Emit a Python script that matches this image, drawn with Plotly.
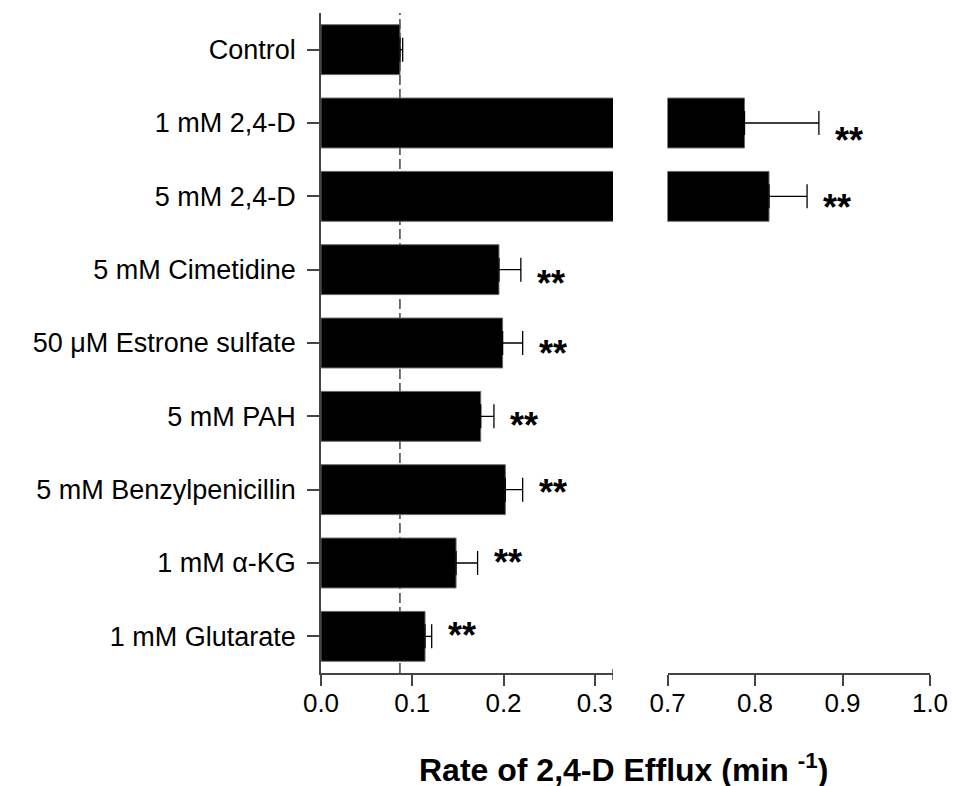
import plotly.graph_objects as go

# ---- data ----
categories = ["Control", "1 mM 2,4-D", "5 mM 2,4-D", "5 mM Cimetidine",
              "50 μM Estrone sulfate", "5 mM PAH", "5 mM Benzylpenicillin",
              "1 mM α-KG", "1 mM Glutarate"]
rates = [0.0865, 0.788, 0.816, 0.195, 0.199, 0.175, 0.202, 0.148, 0.114]
errors = [0.003, 0.085, 0.0435, 0.024, 0.022, 0.0145, 0.019, 0.0236, 0.0073]
significance = ["", "**", "**", "**", "**", "**", "**", "**", "**"]
control_rate = rates[0]

left_ticks = [0.0, 0.1, 0.2, 0.3]
left_labels = ["0.0", "0.1", "0.2", "0.3"]
right_ticks = [0.7, 0.8, 0.9, 1.0]
right_labels = ["0.7", "0.8", "0.9", "1.0"]
left_range = [0, 0.32]
right_range = [0.7, 1.0]

# ---- style ----
FONT = "Liberation Sans, Arial, sans-serif"
star_dy = [0, 12, 6, 9, 5, 4, -2, -6, -6]   # pixel offsets of the star labels

fig = go.Figure()
for xa in ["x", "x2"]:
    fig.add_trace(go.Bar(
        y=categories, x=rates, orientation="h", xaxis=xa, yaxis="y",
        width=0.68,
        marker=dict(color="black", line=dict(color="#666666", width=1)),
        error_x=dict(type="data", symmetric=False, array=errors,
                     arrayminus=[0] * len(errors), color="black",
                     thickness=1.3, width=12),
        showlegend=False, hoverinfo="x+y"))

# star annotations
for i, (c, v, e, s) in enumerate(zip(categories, rates, errors, significance)):
    if not s:
        continue
    xa = "x2" if v > left_range[1] else "x"
    fig.add_annotation(x=v + e, y=c, xref=xa, yref="y", text="<b>" + s + "</b>",
                       showarrow=False, xanchor="left", yanchor="middle",
                       xshift=14, yshift=-(star_dy[i] + 5),
                       font=dict(family=FONT, size=36, color="black"))

# dashed control reference line
fig.add_shape(type="line", xref="x", yref="paper", x0=control_rate, x1=control_rate,
              y0=0, y1=1, layer="below",
              line=dict(color="#444444", width=1.5, dash="10px,4px"))
# end cap of the left axis segment
fig.add_shape(type="line", xref="x", yref="paper", x0=left_range[1], x1=left_range[1],
              ysizemode="pixel", yanchor=0, y0=-7, y1=4,
              line=dict(color="#444444", width=1.5))

# axis title
fig.add_annotation(x=0.4975, y=-0.144, xref="paper", yref="paper",
                   text="<b>Rate of 2,4-D Efflux (min <sup>-1</sup>)</b>",
                   showarrow=False, xanchor="center", yanchor="middle",
                   font=dict(family=FONT, size=32, color="black"))

axis_common = dict(showline=True, linecolor="#444444", linewidth=1.5,
                   ticks="outside", ticklen=11, tickwidth=1.5, tickcolor="#444444",
                   showgrid=False, zeroline=False, ticklabelstandoff=-5,
                   automargin=False, ticklabeloverflow="allow",
                   tickfont=dict(family=FONT, size=26, color="black"))

fig.update_layout(
    width=954, height=786, autosize=False,
    margin=dict(l=321, r=24, t=13, b=113),
    plot_bgcolor="white", paper_bgcolor="white",
    xaxis=dict(domain=[0, 0.4795], range=left_range, tickvals=left_ticks,
               ticktext=left_labels, anchor="y", **axis_common),
    xaxis2=dict(domain=[0.569, 1.0], range=right_range, tickvals=right_ticks,
                ticktext=right_labels, anchor="y", **axis_common),
    yaxis=dict(type="category", categoryorder="array", categoryarray=categories,
               autorange="reversed", showline=True, linecolor="#444444",
               linewidth=1.5, ticks="outside", ticklen=12, tickwidth=1.5,
               tickcolor="#444444", showgrid=False, zeroline=False,
               ticklabelstandoff=6, automargin=False, ticklabeloverflow="allow",
               tickfont=dict(family=FONT, size=27, color="black")),
)

fig.write_html("out.html",
               config={"responsive": False, "displayModeBar": False},
               post_script="document.body.style.margin='0';"
                           "document.body.style.overflow='hidden';")
